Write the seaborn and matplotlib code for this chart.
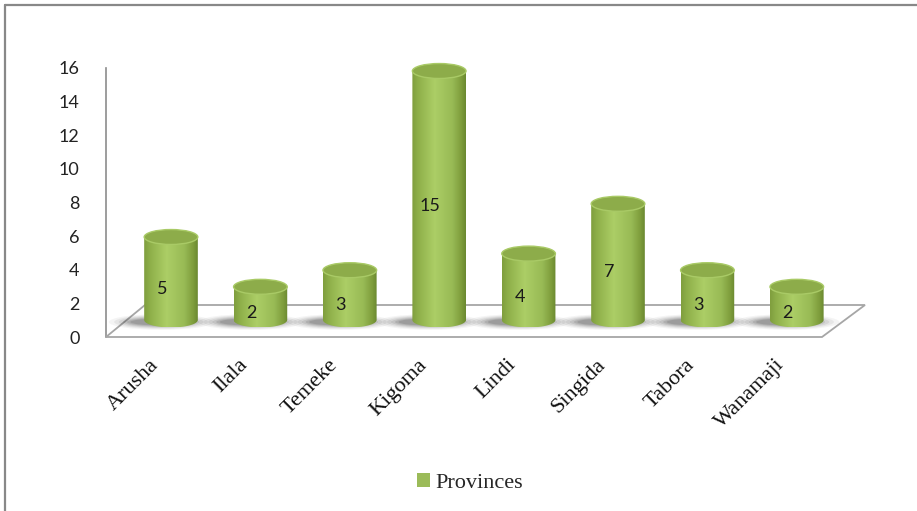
import numpy as np
import pandas as pd
import matplotlib
matplotlib.use("Agg")
import matplotlib.pyplot as plt
import seaborn as sns
from matplotlib.patches import Ellipse, Polygon, PathPatch, Rectangle
from matplotlib.path import Path
from matplotlib.lines import Line2D
from matplotlib.transforms import ScaledTranslation
from matplotlib.colors import LinearSegmentedColormap

# ---------------- data ----------------
provinces = ["Arusha", "Ilala", "Temeke", "Kigoma", "Lindi", "Singida", "Tabora", "Wanamaji"]
counts = [5, 2, 3, 15, 4, 7, 3, 2]
y_ticks = [0, 2, 4, 6, 8, 10, 12, 14, 16]
series_name = "Provinces"

df = pd.DataFrame({"Province": provinces, "Count": counts})

sns.set_theme(style="white")
plt.rcParams["font.family"] = ["Lato", "DejaVu Sans"]

W, H = 917, 511
fig = plt.figure(figsize=(W / 100, H / 100), dpi=100)
fig.patch.set_facecolor("white")


def fig_box(left, top, right, bottom):
    return [left / W, 1 - bottom / H, (right - left) / W, (bottom - top) / H]


# y-axis (tick scale) axes
ax_y = fig.add_axes(fig_box(106, 68, 110, 337))
ax_y.set_ylim(0, 16)
ax_y.set_xticks([])
ax_y.set_yticks(y_ticks)
ax_y.set_yticklabels([str(t) for t in y_ticks], fontsize=13, color="#222222")
ax_y.tick_params(axis="y", length=0, pad=19)
for s in ["top", "right", "bottom"]:
    ax_y.spines[s].set_visible(False)
ax_y.spines["left"].set_color("#8c8c8c")
ax_y.spines["left"].set_linewidth(1.2)
ax_y.patch.set_alpha(0)

# main axes for the bars
ax = fig.add_axes(fig_box(106, 40, 880, 345), zorder=2)
ax.patch.set_alpha(0)


def px_to_x(px):
    return (px - 171) / 89.4


def py_to_y(py):
    return (320 - py) / 16.6


ax.set_xlim(px_to_x(106), px_to_x(880))
ax.set_ylim(py_to_y(345), py_to_y(40))

bar_w = 0.60
sns.barplot(data=df, x="Province", y="Count", ax=ax, width=bar_w,
            color="#9bbb59", saturation=1, edgecolor="none", zorder=3)

# floor
floor = Polygon([(px_to_x(106), py_to_y(337)), (px_to_x(822), py_to_y(337)),
                 (px_to_x(865), py_to_y(305)), (px_to_x(145), py_to_y(305))],
                closed=True, facecolor="white", edgecolor="#a6a6a6", lw=1.3, zorder=1)
ax.add_patch(floor)

grad_cmap = LinearSegmentedColormap.from_list(
    "cyl", [(0.0, "#7f9e3e"), (0.12, "#8fb04a"), (0.42, "#acce66"),
            (0.75, "#98ba55"), (0.92, "#7d9c3b"), (1.0, "#6a8830")])
ell_h = 0.90
grad = np.linspace(0, 1, 256).reshape(1, -1)

for patch in list(ax.patches):
    if not isinstance(patch, Rectangle) or patch is floor:
        continue
    x0 = patch.get_x()
    w = patch.get_width()
    v = patch.get_height()
    if w <= 0 or v <= 0:
        continue
    cx = x0 + w / 2
    patch.set_visible(False)
    # soft shadow on the floor
    for sw, sh, sa in [(1.95, 1.05, 0.05), (1.75, 0.92, 0.07), (1.58, 0.80, 0.09),
                       (1.42, 0.68, 0.12), (1.28, 0.56, 0.14), (1.15, 0.45, 0.16)]:
        ax.add_patch(Ellipse((cx - 0.11, -0.12), width=w * sw, height=ell_h * sh,
                             facecolor="#3a3a3a", alpha=sa, edgecolor="none", zorder=2))
    t = np.linspace(np.pi, 2 * np.pi, 40)
    bx = cx + (w / 2) * np.cos(t)
    by = 0 + (ell_h / 2) * np.sin(t)
    verts = [(x0, v)] + list(zip(bx, by)) + [(x0 + w, v), (x0, v)]
    codes = [Path.MOVETO] + [Path.LINETO] * (len(verts) - 2) + [Path.CLOSEPOLY]
    body = PathPatch(Path(verts, codes), facecolor="none", edgecolor="none", zorder=3)
    ax.add_patch(body)
    im = ax.imshow(grad, cmap=grad_cmap, aspect="auto",
                   extent=[x0, x0 + w, -ell_h / 2, v], zorder=3, interpolation="bilinear")
    im.set_clip_path(body)
    ax.add_patch(Ellipse((cx, v), width=w, height=ell_h, facecolor="#8dac4a",
                         edgecolor="#a9ca66", lw=1.0, zorder=4))

ax.set_xlim(px_to_x(106), px_to_x(880))
ax.set_ylim(py_to_y(345), py_to_y(40))

# data labels
lab_off = ScaledTranslation(-9 / 100, -10 / 100, fig.dpi_scale_trans)
for i, v in enumerate(counts):
    ax.text(i, v / 2, str(v), ha="center", va="center", fontsize=13, color="#1a1a1a",
            transform=ax.transData + lab_off, zorder=6)

# x tick labels
ax.set_xticks(range(len(provinces)))
ax.set_xticklabels(provinces, rotation=45, ha="right", rotation_mode="anchor",
                   fontsize=16, family=["Liberation Serif"], color="#111111")
ax.tick_params(axis="x", length=0, pad=7.5)
off = ScaledTranslation(-22 / 100, 0, fig.dpi_scale_trans)
for lbl in ax.get_xticklabels():
    lbl.set_transform(lbl.get_transform() + off)
ax.set_yticks([])
ax.set_xlabel("")
ax.set_ylabel("")
for s in ax.spines.values():
    s.set_visible(False)

# legend
handle = Rectangle((0, 0), 1, 1, facecolor="#9bbb59", edgecolor="none")
fig.legend([handle], [series_name], loc="center", bbox_to_anchor=(470 / W, 1 - 483 / H),
           frameon=False, prop={"family": "Liberation Serif", "size": 16},
           handlelength=0.6, handleheight=0.6, handletextpad=0.25)

# chart-area border (top and left edges visible)
fig.add_artist(Line2D([5 / W, 1], [1 - 5.5 / H, 1 - 5.5 / H], color="#888888", lw=1.6,
                      transform=fig.transFigure))
fig.add_artist(Line2D([5 / W, 5 / W], [0, 1 - 5.5 / H], color="#888888", lw=1.6,
                      transform=fig.transFigure))

fig.savefig("out.png", dpi=100, facecolor="white")
